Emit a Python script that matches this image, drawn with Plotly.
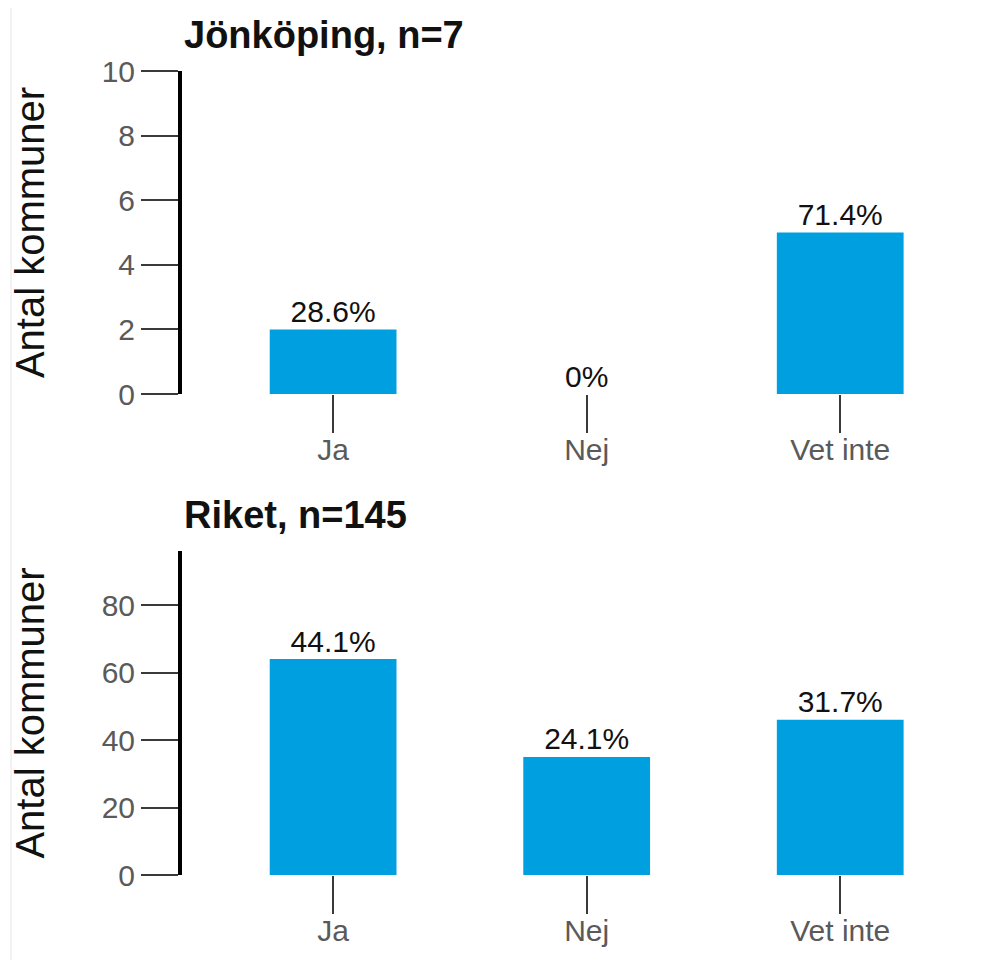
import plotly.graph_objects as go
from plotly.subplots import make_subplots

categories = ["Ja", "Nej", "Vet inte"]
jkp_counts = [2, 0, 5]
jkp_n = 7
riket_counts = [64, 35, 46]
riket_n = 145
titles = ["Jönköping, n=7", "Riket, n=145"]
y_ticks_top = [0, 2, 4, 6, 8, 10]
y_ticks_bottom = [0, 20, 40, 60, 80]

BAR = "#009FE0"
FONT = "Liberation Sans, Arial, sans-serif"
TICKCOL = "#5a5a5a"

def pct_labels(counts, n):
    out = []
    for c in counts:
        p = 100.0 * c / n
        s = f"{p:.1f}%"
        if c == 0:
            s = "0%"
        out.append(s)
    return out

fig = make_subplots(rows=2, cols=1, vertical_spacing=0.195)

for row, (counts, n) in enumerate([(jkp_counts, jkp_n), (riket_counts, riket_n)], start=1):
    fig.add_trace(go.Bar(x=categories, y=counts, marker_color=BAR, marker_line_width=0,
                         width=0.5, showlegend=False, hoverinfo="skip"), row=row, col=1)
    fig.add_trace(go.Scatter(x=categories, y=counts, mode="text", text=pct_labels(counts, n),
                             textposition="top center", cliponaxis=False,
                             textfont=dict(size=30, color="#111111", family=FONT),
                             showlegend=False, hoverinfo="skip"), row=row, col=1)

# page has an 8px body margin
OFF = 8
W, H = 987 - OFF, 960 - OFF
ml, mr, mt, mb = 182 - OFF, 20, 71 - OFF, 85
ph = H - mt - mb
pw = W - ml - mr

fig.update_layout(
    width=W, height=H,
    margin=dict(l=ml, r=mr, t=mt, b=mb, autoexpand=False),
    paper_bgcolor="white", plot_bgcolor="white",
    font=dict(family=FONT),
    bargap=0.5,
)

top_dom = [(960 - mb - 394) / ph, 1.0]
bot_dom = [0.0, (960 - mb - 551) / ph]

for i, (dom, rng, ticks) in enumerate([(top_dom, [0, 10], y_ticks_top), (bot_dom, [0, 96], y_ticks_bottom)], start=1):
    fig.update_yaxes(
        row=i, col=1, domain=dom, range=rng, tickvals=ticks,
        showgrid=False, zeroline=False, automargin=False,
        showline=True, linecolor="black", linewidth=4,
        ticks="outside", ticklen=37, tickwidth=2, tickcolor="#3a3a3a",
        tickfont=dict(size=30, color=TICKCOL, family=FONT),
        title=dict(text="Antal kommuner", font=dict(size=40, color="#111111", family=FONT), standoff=55),
    )
    fig.update_xaxes(
        row=i, col=1, range=[-0.596, 2.5],
        showgrid=False, zeroline=False, showline=False, automargin=False,
        ticks="outside", ticklen=38, tickwidth=2, tickcolor="#3a3a3a",
        tickfont=dict(size=30, color=TICKCOL, family=FONT),
        ticklabelstandoff=-9,
    )

# panel titles
for txt, ytop in [(titles[0], 1.0), (titles[1], bot_dom[1])]:
    fig.add_annotation(text=f"<b>{txt}</b>", xref="paper", yref="paper", x=0.0, y=ytop,
                       xanchor="left", yanchor="bottom", yshift=13, showarrow=False,
                       font=dict(size=38, color="#111111", family=FONT))

# faint left border line
xb = (11 - 182) / pw
fig.add_shape(type="line", xref="paper", yref="paper", x0=xb, x1=xb,
              y0=-mb / ph, y1=1 + mt / ph, line=dict(color="#e6e6e6", width=1))

fig.write_html("out.html")
